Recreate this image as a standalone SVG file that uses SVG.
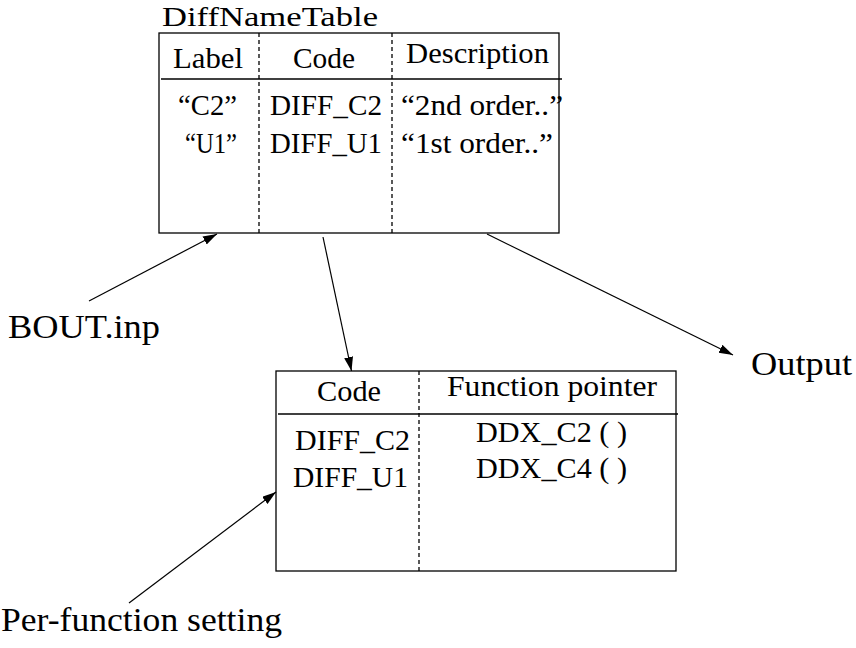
<svg xmlns="http://www.w3.org/2000/svg" width="856" height="648" viewBox="0 0 856 648">
<style>
text{font-family:"Liberation Serif","DejaVu Serif","Times New Roman",serif;fill:#000}
.big{font-size:34px}
.title{font-size:28px}
.cell{font-size:29px}
.box{fill:none;stroke:#000;stroke-width:1.3}
.rule{stroke:#000;stroke-width:1.3}
.dash{stroke:#000;stroke-width:1.3;stroke-dasharray:4 3}
.conn{stroke:#000;stroke-width:1.2;fill:none;marker-end:url(#ah)}
</style>
<defs>
<marker id="ah" markerUnits="userSpaceOnUse" markerWidth="15" markerHeight="10" refX="14" refY="4.5" orient="auto">
<path d="M0,0 L14,4.5 L0,9 z" fill="#000"/>
</marker>
</defs>
<rect width="856" height="648" fill="#fff"/>
<g id="diffnametable">
<text class="title" x="162" y="26" textLength="216" lengthAdjust="spacingAndGlyphs">DiffNameTable</text>
<rect class="box" x="159" y="33" width="400" height="200"/>
<line class="rule" x1="161" y1="79" x2="562" y2="79"/>
<line class="dash" x1="259" y1="33" x2="259" y2="233"/>
<line class="dash" x1="392" y1="33" x2="392" y2="233"/>
<text class="cell" x="173" y="68" textLength="70" lengthAdjust="spacingAndGlyphs">Label</text>
<text class="cell" x="293" y="68" textLength="62" lengthAdjust="spacingAndGlyphs">Code</text>
<text class="cell" x="406" y="63" textLength="143" lengthAdjust="spacingAndGlyphs">Description</text>
<text class="cell" x="178" y="115" textLength="59" lengthAdjust="spacingAndGlyphs">“C2”</text>
<text class="cell" x="270" y="115" textLength="112" lengthAdjust="spacingAndGlyphs">DIFF_C2</text>
<text class="cell" x="401" y="115" textLength="162" lengthAdjust="spacingAndGlyphs">“2nd order..”</text>
<text class="cell" x="185" y="153" textLength="52" lengthAdjust="spacingAndGlyphs">“U1”</text>
<text class="cell" x="270" y="153" textLength="112" lengthAdjust="spacingAndGlyphs">DIFF_U1</text>
<text class="cell" x="401" y="153" textLength="152" lengthAdjust="spacingAndGlyphs">“1st order..”</text>
</g>
<g id="functable">
<rect class="box" x="276" y="371" width="400" height="200"/>
<line class="rule" x1="278" y1="414" x2="678" y2="414"/>
<line class="dash" x1="419" y1="371" x2="419" y2="571"/>
<text class="cell" x="317" y="401" textLength="64" lengthAdjust="spacingAndGlyphs">Code</text>
<text class="cell" x="447" y="396" textLength="210" lengthAdjust="spacingAndGlyphs">Function pointer</text>
<text class="cell" x="295" y="450" textLength="115" lengthAdjust="spacingAndGlyphs">DIFF_C2</text>
<text class="cell" x="293" y="487" textLength="115" lengthAdjust="spacingAndGlyphs">DIFF_U1</text>
<text class="cell" x="476" y="442" textLength="151" lengthAdjust="spacingAndGlyphs">DDX_C2 ( )</text>
<text class="cell" x="476" y="478" textLength="151" lengthAdjust="spacingAndGlyphs">DDX_C4 ( )</text>
</g>
<g id="bout">
<text class="big" x="8" y="338" textLength="152" lengthAdjust="spacingAndGlyphs">BOUT.inp</text>
</g>
<g id="output">
<text class="big" x="751" y="375" textLength="101" lengthAdjust="spacingAndGlyphs">Output</text>
</g>
<g id="perfunction">
<text class="big" x="1" y="631" textLength="281" lengthAdjust="spacingAndGlyphs">Per-function setting</text>
</g>
<g id="connectors">
<line class="conn" x1="89" y1="301" x2="217" y2="234"/>
<line class="conn" x1="323" y1="237" x2="351.5" y2="371"/>
<line class="conn" x1="487" y1="234" x2="733" y2="355"/>
<line class="conn" x1="129" y1="603" x2="276" y2="492"/>
</g>
</svg>
